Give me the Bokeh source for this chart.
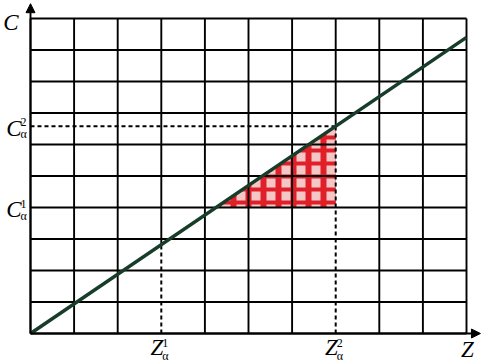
from bokeh.plotting import figure
from bokeh.models import Range1d, Arrow, NormalHead
from bokeh.core.properties import value
from bokeh.embed import file_html
from bokeh.resources import INLINE

# ---- data ----
grid_z = [0, 1, 2, 3, 4, 5, 6, 7, 8, 9, 10]
grid_c = [0, 1, 2, 3, 4, 5, 6, 7, 8, 9, 10]
line_z = [0.0, 10.0]
line_c = [0.0, 9.4]
Z1 = 3.0
Z2 = 7.0
C1 = 4.0
slope = line_c[1] / line_z[1]
C2 = slope * Z2
axis_end_z = 10.32
axis_end_c = 10.47

FONT = value("Liberation Serif")

W, H = 492, 364
ux, uy = 43.6, 31.5
left_px, bottom_px = 30, 31
p = figure(width=W, height=H, output_backend="svg", toolbar_location=None,
           x_range=Range1d(-left_px / ux, (W - left_px) / ux),
           y_range=Range1d(-bottom_px / uy, (H - bottom_px) / uy),
           min_border=0, min_border_left=0, min_border_right=0,
           min_border_top=0, min_border_bottom=0)
p.axis.visible = False
p.grid.visible = False
p.outline_line_color = None
p.background_fill_color = "white"
p.border_fill_color = "white"

# ---- hatched triangle ----
tri_x = [C1 / slope, Z2, Z2]
tri_y = [C1, C1, C2]
p.patch(tri_x, tri_y, fill_color="#f5c6c6", line_color=None,
        hatch_pattern="|", hatch_color="#e01f28", hatch_scale=15, hatch_weight=6)
p.patch(tri_x, tri_y, fill_alpha=0, line_color=None,
        hatch_pattern="-", hatch_color="#e01f28", hatch_scale=13, hatch_weight=4)

# ---- grid ----
vx0, vy0, vx1, vy1 = [], [], [], []
for gz in grid_z:
    start = slope * gz if gz in (Z1, Z2) else grid_c[0]
    vx0.append(gz); vy0.append(start); vx1.append(gz); vy1.append(grid_c[-1])
p.segment(vx0, vy0, vx1, vy1, line_color="black", line_width=1.9)
p.segment([grid_z[0]] * len(grid_c), grid_c, [grid_z[-1]] * len(grid_c), grid_c,
          line_color="black", line_width=1.9)

# ---- dashed projections ----
p.segment([Z1, Z2, 0], [0, 0, C2], [Z1, Z2, Z2], [slope * Z1, C2, C2],
          line_color="black", line_width=2, line_dash="4 3")

# ---- main line ----
p.line(line_z, line_c, line_color="#173d2a", line_width=3.5)

# ---- axes arrows ----
p.add_layout(Arrow(end=NormalHead(size=9, fill_color="black", line_color="black"),
                   x_start=0, y_start=0, x_end=0, y_end=axis_end_c,
                   line_color="black", line_width=1.9))
p.add_layout(Arrow(end=NormalHead(size=9, fill_color="black", line_color="black"),
                   x_start=0, y_start=0, x_end=axis_end_z, y_end=0,
                   line_color="black", line_width=1.9))

# ---- labels ----
big = "23px"
small = "12px"
p.text(x=[0], y=[grid_c[-1]], text=["C"], text_font=FONT, text_font_style="italic",
       text_font_size=big, text_align="right", text_baseline="middle",
       x_offset=-12, y_offset=4, text_color="black")
p.text(x=[grid_z[-1]], y=[0], text=["Z"], text_font=FONT, text_font_style="italic",
       text_font_size=big, text_align="center", text_baseline="middle",
       x_offset=1, y_offset=16, text_color="black")

for cval, sup in [(C1, "1"), (C2, "2")]:
    p.text(x=[0], y=[cval], text=["C"], text_font=FONT, text_font_style="italic",
           text_font_size=big, text_align="right", text_baseline="middle",
           x_offset=-9, y_offset=2, text_color="black")
    p.text(x=[0], y=[cval], text=[sup], text_font=FONT, text_font_size=small,
           text_align="left", text_baseline="middle", x_offset=-10, y_offset=-4,
           text_color="black")
    p.text(x=[0], y=[cval], text=["α"], text_font=FONT, text_font_size=small,
           text_align="left", text_baseline="middle", x_offset=-10, y_offset=8,
           text_color="black")

for zval, sup in [(Z1, "1"), (Z2, "2")]:
    p.text(x=[zval], y=[0], text=["Z"], text_font=FONT, text_font_style="italic",
           text_font_size=big, text_align="right", text_baseline="middle",
           x_offset=2, y_offset=14, text_color="black")
    p.text(x=[zval], y=[0], text=[sup], text_font=FONT, text_font_size=small,
           text_align="left", text_baseline="middle", x_offset=1, y_offset=9,
           text_color="black")
    p.text(x=[zval], y=[0], text=["α"], text_font=FONT, text_font_size=small,
           text_align="left", text_baseline="middle", x_offset=1, y_offset=22,
           text_color="black")

open("out.html", "w").write(file_html(p, INLINE))
